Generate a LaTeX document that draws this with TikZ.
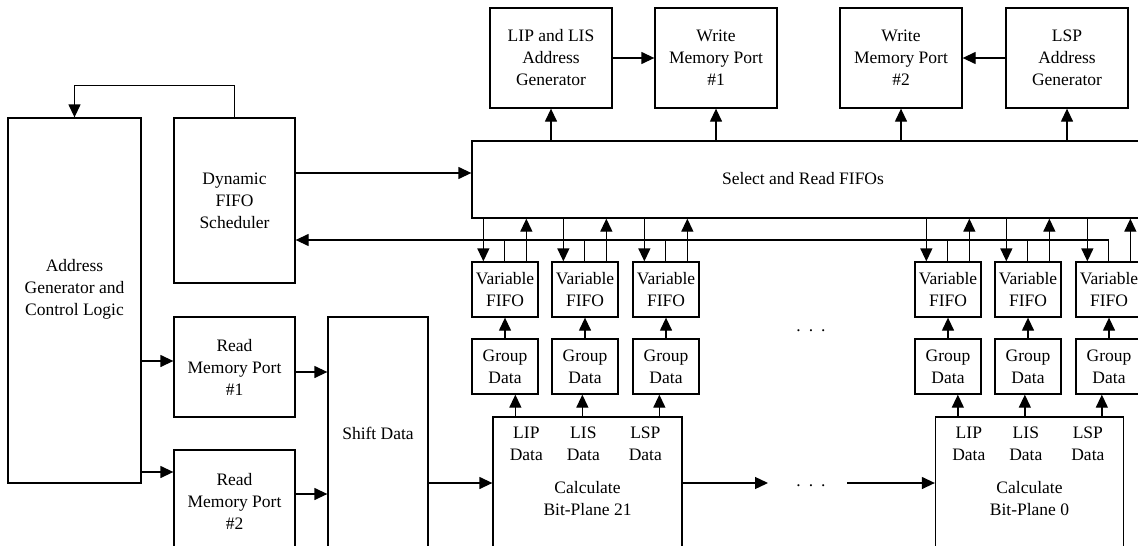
\documentclass[tikz,border=0pt]{standalone}
\usepackage{fontspec}
\setmainfont{Liberation Serif}
\usetikzlibrary{arrows.meta}
\begin{document}
\begin{tikzpicture}[x=1pt,y=-1pt,
  txt/.style={font=\fontsize{17.5}{22}\selectfont, align=center},
  box/.style={draw, line width=1.3pt, inner sep=0pt, txt},
  lbl/.style={inner sep=0pt, txt},
  arr/.style={line width=1.3pt, -{Triangle[length=13pt,width=12pt]}},
  wire/.style={line width=1.3pt}]
\useasboundingbox (0,0) rectangle (1138,546);
\clip (0,0) rectangle (1138,546);

% helper rows
\coordinate (bus) at (0,240);
\coordinate (ysch) at (0,173);
\coordinate (yr1in) at (0,361);
\coordinate (yr2in) at (0,472);
\coordinate (yr1out) at (0,372);
\coordinate (yr2out) at (0,494);
\coordinate (ycalc) at (0,483);

% left column
\node[box, minimum width=133pt, minimum height=365pt] (addr) at (74.5,300.5) {};
\node[lbl] (addrtxt) at (74.5,289) {Address\\Generator and\\Control Logic};
\node[box, minimum width=121pt, minimum height=165pt] (sched) at (234.5,200.5) {Dynamic\\FIFO\\Scheduler};
\node[box, minimum width=121pt, minimum height=100pt] (r1) at (234.5,367) {Read\\Memory Port\\\#1};
\node[box, minimum width=121pt, minimum height=120pt] (r2) at (234.5,510) {};
\node[lbl] (r2txt) at (234.5,501) {Read\\Memory Port\\\#2};
\node[box, minimum width=100pt, minimum height=243pt] (shift) at (378,438.5) {};
\node[lbl] (shifttxt) at (378,433) {Shift Data};

% top row
\node[box, minimum width=122pt, minimum height=100pt] (lip) at (551,58) {LIP and LIS\\Address\\Generator};
\node[box, minimum width=122pt, minimum height=100pt] (w1) at (716,58) {Write\\Memory Port\\\#1};
\node[box, minimum width=122pt, minimum height=100pt] (w2) at (901,58) {Write\\Memory Port\\\#2};
\node[box, minimum width=122pt, minimum height=100pt] (lsp) at (1067,58) {LSP\\Address\\Generator};

% FIFO selector
\node[box, minimum width=673pt, minimum height=77pt] (sel) at (808.5,179.5) {};
\node[lbl] (seltxt) at (803,179) {Select and Read FIFOs};

% bit-plane calculators
\node[box, minimum width=189pt, minimum height=143pt] (c21) at (587.5,488.5) {};
\node[box, minimum width=188pt, minimum height=143pt] (c0) at (1029.5,488.5) {};
\foreach \c in {c21,c0}{
  \node[lbl] (\c lip) at ([xshift=34pt]\c.north west |- 0,444) {LIP\\Data};
  \node[lbl] (\c lis) at ([xshift=91pt]\c.north west |- 0,444) {LIS\\Data};
  \node[lbl] (\c lsp) at ([xshift=153pt]\c.north west |- 0,444) {LSP\\Data};
}
\node[lbl] (c21txt) at (587.5,499) {Calculate\\Bit-Plane 21};
\node[lbl] (c0txt) at (1029.5,499) {Calculate\\Bit-Plane 0};

% FIFO lanes
\foreach \i/\L in {1/472,2/552,3/633,4/915,5/995,6/1076}{
  \node[box, minimum width=66pt, minimum height=55pt] (f\i) at (\L+33,289.5) {Variable\\FIFO};
  \node[box, minimum width=66pt, minimum height=55pt] (g\i) at (\L+33,366.5) {Group\\Data};
  \draw[arr] (g\i.north) -- (f\i.south);
  \draw[arr] ([xshift=12pt]f\i.north west |- sel.south) -- ([xshift=12pt]f\i.north west);
  \draw[arr] ([xshift=55pt]f\i.north west) -- ([xshift=55pt]f\i.north west |- sel.south);
}
\foreach \i in {1,...,5}{
  \draw[wire] ([xshift=33pt]f\i.north west) -- ([xshift=33pt]f\i.north west |- bus);
}
\draw[arr] ([xshift=33pt]f6.north west) |- (sched.east |- bus);

% calculator outputs into grouping
\foreach \c/\a/\b/\d in {c21/g1/g2/g3, c0/g4/g5/g6}{
  \draw[arr] ([xshift=23pt]\c.north west) -- ([xshift=23pt]\c.north west |- \a.south);
  \draw[arr] ([xshift=90pt]\c.north west) -- ([xshift=90pt]\c.north west |- \b.south);
  \draw[arr] ([xshift=167pt]\c.north west) -- ([xshift=167pt]\c.north west |- \d.south);
}

% top connections
\draw[arr] (sel.north -| lip) -- (lip.south);
\draw[arr] (sel.north -| w1) -- (w1.south);
\draw[arr] (sel.north -| w2) -- (w2.south);
\draw[arr] (sel.north -| lsp) -- (lsp.south);
\draw[arr] (lip.east) -- (w1.west);
\draw[arr] (lsp.west) -- (w2.east);

% scheduler and control
\draw[arr] (sched.north) -- ++(0,-32) -| (addr.north);
\draw[arr] (sched.east |- ysch) -- (sel.west |- ysch);
\draw[arr] (addr.east |- yr1in) -- (r1.west |- yr1in);
\draw[arr] (addr.east |- yr2in) -- (r2.west |- yr2in);
\draw[arr] (r1.east |- yr1out) -- (shift.west |- yr1out);
\draw[arr] (r2.east |- yr2out) -- (shift.west |- yr2out);
\draw[arr] (shift.east |- ycalc) -- (c21.west |- ycalc);

% chain of bit-planes
\coordinate (gapL) at (768,483);
\coordinate (gapR) at (847,483);
\draw[arr] (c21.east |- ycalc) -- (gapL);
\draw[arr] (gapR) -- (c0.west |- ycalc);
\node[lbl] (dotsA) at (811,486) {.\hspace{8pt}.\hspace{8pt}.};
\node[lbl] (dotsB) at (811,331) {.\hspace{8pt}.\hspace{8pt}.};
\end{tikzpicture}
\end{document}
